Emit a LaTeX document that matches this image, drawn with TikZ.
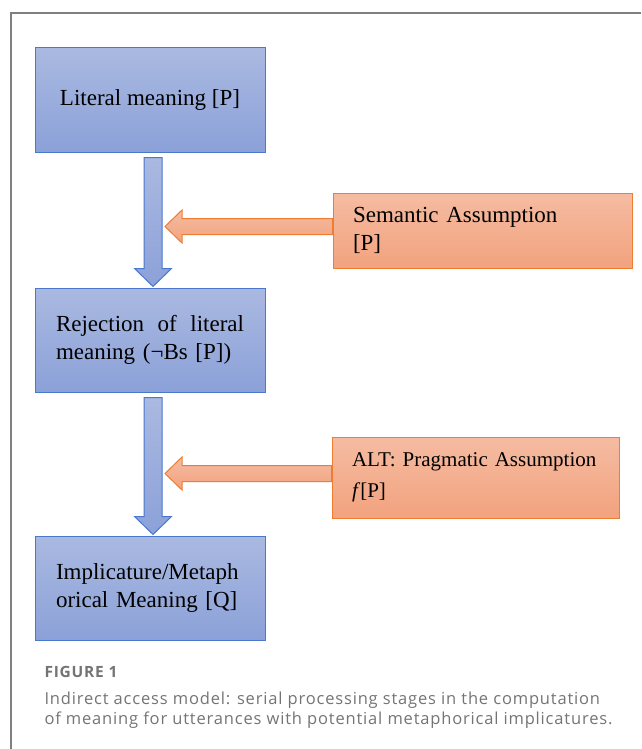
\documentclass[tikz,border=0pt]{standalone}
\usepackage{fontspec}
\setmainfont{Liberation Serif}
\newfontfamily\captionfont[LetterSpace=5]{Open Sans}
\usetikzlibrary{positioning,calc}

\definecolor{boxblue}{HTML}{4A78CC}
\definecolor{blueTop}{HTML}{AAB9E1}
\definecolor{blueBot}{HTML}{8BA1D8}
\definecolor{boxorange}{HTML}{ED7D31}
\definecolor{orangeTop}{HTML}{F5BCA2}
\definecolor{orangeBot}{HTML}{F2A27E}
\definecolor{capgray}{HTML}{747474}

\begin{document}
\begin{tikzpicture}[
        x = 1pt, y = -1pt, % pixel like units, y downwards
        node distance = 135pt,
        line width = 1pt
        ]

        \tikzset{
        stage/.style = {
            draw = boxblue,
            top color = blueTop,
            bottom color = blueBot,
            minimum width = 230pt,
            minimum height = 104pt,
            inner xsep = 21pt,
            font = \fontsize{23}{28}\selectfont
            },
        assumption/.style = {
            draw = boxorange,
            top color = orangeTop,
            bottom color = orangeBot,
            inner xsep = 20pt,
            align = left,
            font = \fontsize{23}{28}\selectfont
            },
        downarrow/.style = {draw = boxblue, top color = blueTop, bottom color = blueBot},
        leftarrow/.style = {draw = boxorange, top color = orangeTop, bottom color = orangeBot},
        caption/.style = {anchor = base west, inner sep = 0pt, text = capgray}
        }

        \useasboundingbox (0,0) rectangle (641,749);

        % frame
        \draw[gray, line width = 1.5pt] (11,749) -- (11,13) -- (641,13);

        % stages
        \node[stage] (lit) at (150,100) {Literal meaning [P]};
        \node[stage, text width = 188pt, align = left] (rej) [below=135pt of lit]
            {\hbox to 188pt{Rejection\hfil of\hfil literal}\\meaning (¬Bs [P])};
        \node[stage, text width = 188pt, align = left] (imp) [below=143pt of rej]
            {Implicature/Metaph\\orical Meaning [Q]};

        % assumptions
        \node[assumption, minimum width = 299pt, minimum height = 75pt,
            text width = 259pt] (sem) at (482.5,230.5) {Semantic Assumption\\{}[P]};
        \node[assumption, minimum width = 287pt, minimum height = 81pt,
            text width = 247pt, font = \fontsize{21}{31}\selectfont]
            (alt) at (475.5,477.5) {ALT: Pragmatic Assumption\\\textit{f}[P]};

        % block arrows down
        \foreach \from/\to in {lit/rej, rej/imp}
            \path[downarrow] let \p1 = (\from.south), \p2 = (\to.north) in
                (\x1-6,\y1-5) -- (\x1+12,\y1-5) -- (\x1+12,\y2+19) -- (\x1+21.5,\y2+19)
                -- (\x1+3,\y2+1) -- (\x1-15.5,\y2+19) -- (\x1-6,\y2+19) -- cycle;

        % block arrows left
        \foreach \from/\to in {sem/rej, alt/imp}
            \path[leftarrow] let \p1 = (\from.west), \p2 = (\to.north) in
                (\x1,\y1+12) -- (\x2+32,\y1+12) -- (\x2+32,\y1+20.5) -- (\x2+15,\y1+4)
                -- (\x2+32,\y1-12.5) -- (\x2+32,\y1-4) -- (\x1,\y1-4) -- cycle;

        % caption
        \node[caption, font = \captionfont\fontsize{15.5}{18}\selectfont\bfseries] (fig) at (44,677) {FIGURE 1};
        \node[caption, font = \captionfont\fontsize{16.5}{20}\selectfont] (cap1) at (44,704)
            {Indirect access model: serial processing stages in the computation};
        \node[caption, font = \captionfont\fontsize{16.5}{20}\selectfont] (cap2) at (44,724)
            {of meaning for utterances with potential metaphorical implicatures.};

\end{tikzpicture}
\end{document}
